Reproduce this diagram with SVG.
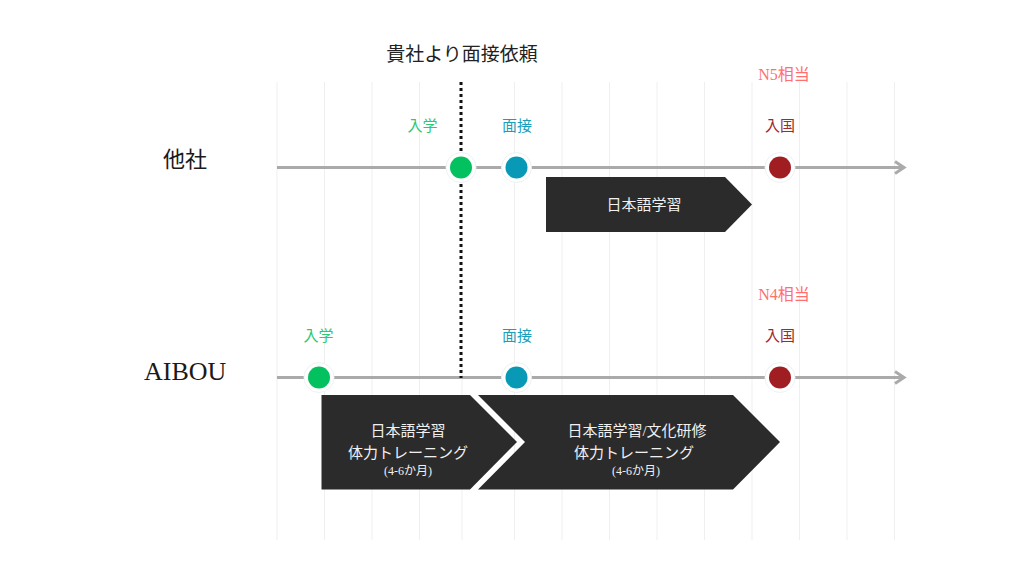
<svg xmlns="http://www.w3.org/2000/svg" width="1024" height="582" viewBox="0 0 1024 582">
<style>
text{font-family:"Liberation Serif","Noto Sans CJK JP",serif}
.grid{stroke:#efefef;stroke-width:1}
.tl{stroke:#aaaaaa;stroke-width:3;fill:none}
.halo{fill:#fff;stroke:#eef2f2;stroke-width:1}
.box{fill:#2b2b2b}
.bt{fill:#f0f0f0;font-size:15px;text-anchor:middle}
.sm{fill:#f0f0f0;font-size:12px;text-anchor:middle}
.lbl{font-size:15px;text-anchor:middle}
.g{fill:#2fc872}.b{fill:#1a9fba}.r{fill:#a3282a}.n{fill:#ff6f6f;font-size:16px}
</style>
<rect width="1024" height="582" fill="#fff"/>
<g id="grid">
<line class="grid" x1="277" y1="82" x2="277" y2="540"/>
<line class="grid" x1="324.5" y1="82" x2="324.5" y2="540"/>
<line class="grid" x1="372" y1="82" x2="372" y2="540"/>
<line class="grid" x1="419.5" y1="82" x2="419.5" y2="540"/>
<line class="grid" x1="462" y1="82" x2="462" y2="540"/>
<line class="grid" x1="514.5" y1="82" x2="514.5" y2="540"/>
<line class="grid" x1="562" y1="82" x2="562" y2="540"/>
<line class="grid" x1="609.5" y1="82" x2="609.5" y2="540"/>
<line class="grid" x1="657" y1="82" x2="657" y2="540"/>
<line class="grid" x1="704.5" y1="82" x2="704.5" y2="540"/>
<line class="grid" x1="752" y1="82" x2="752" y2="540"/>
<line class="grid" x1="799.5" y1="82" x2="799.5" y2="540"/>
<line class="grid" x1="847" y1="82" x2="847" y2="540"/>
<line class="grid" x1="894.5" y1="82" x2="894.5" y2="540"/>
</g>
<g id="title">
<text x="462" y="61" font-size="19" fill="#222" text-anchor="middle">貴社より面接依頼</text>
</g>
<g id="row-labels">
<text x="163" y="167" font-size="22" fill="#1a1a1a">他社</text>
<text x="144" y="380" font-size="26" fill="#1a1a1a">AIBOU</text>
</g>
<g id="connectors">
<line class="tl" x1="277" y1="167.5" x2="904" y2="167.5"/>
<path class="tl" d="M895,161.5 L904,167.5 L895,173.5"/>
<line class="tl" x1="277" y1="377.5" x2="904" y2="377.5"/>
<path class="tl" d="M895,371.5 L904,377.5 L895,383.5"/>
<line x1="461" y1="82" x2="461" y2="378" stroke="#111" stroke-width="3" stroke-dasharray="3 3"/>
</g>
<g id="top-nyugaku">
<circle class="halo" cx="461" cy="167.5" r="15"/>
<circle cx="461" cy="167.5" r="11" fill="#03c15f"/>
<text class="lbl g" x="422.5" y="131">入学</text>
</g>
<g id="top-mensetsu">
<circle class="halo" cx="516.5" cy="167.5" r="15"/>
<circle cx="516.5" cy="167.5" r="11" fill="#0799b5"/>
<text class="lbl b" x="517" y="131">面接</text>
</g>
<g id="top-nyukoku">
<circle class="halo" cx="780" cy="167.5" r="15"/>
<circle cx="780" cy="167.5" r="11" fill="#a01e22"/>
<text class="lbl r" x="780" y="131">入国</text>
<text class="lbl n" x="784" y="80">N5相当</text>
</g>
<g id="top-box">
<polygon class="box" points="546,177 725,177 752,204.5 725,232 546,232"/>
<text class="bt" x="644" y="210">日本語学習</text>
</g>
<g id="bot-nyugaku">
<circle class="halo" cx="319" cy="377.5" r="15"/>
<circle cx="319" cy="377.5" r="11" fill="#03c15f"/>
<text class="lbl g" x="318.5" y="341">入学</text>
</g>
<g id="bot-mensetsu">
<circle class="halo" cx="516.5" cy="377.5" r="15"/>
<circle cx="516.5" cy="377.5" r="11" fill="#0799b5"/>
<text class="lbl b" x="517" y="341">面接</text>
</g>
<g id="bot-nyukoku">
<circle class="halo" cx="780" cy="377.5" r="15"/>
<circle cx="780" cy="377.5" r="11" fill="#a01e22"/>
<text class="lbl r" x="780" y="341">入国</text>
<text class="lbl n" x="784" y="300">N4相当</text>
</g>
<g id="bot-box1">
<polygon class="box" points="321.5,395 470,395 517,442 470,489.5 321.5,489.5"/>
<text class="bt" x="408" y="436">日本語学習</text>
<text class="bt" x="408" y="458">体力トレーニング</text>
<text class="sm" x="408" y="475">(4-6か月)</text>
</g>
<g id="bot-box2">
<polygon class="box" points="478,395 733,395 780,442 733,489.5 478,489.5 525,442"/>
<text class="bt" x="637" y="436">日本語学習/文化研修</text>
<text class="bt" x="634" y="458">体力トレーニング</text>
<text class="sm" x="636" y="475">(4-6か月)</text>
</g>
</svg>
